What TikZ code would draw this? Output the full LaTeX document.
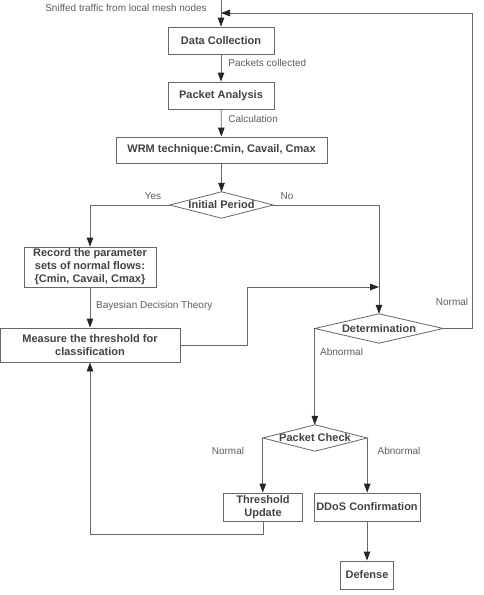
\documentclass[tikz,border=0pt]{standalone}
\usepackage{fontspec}
\setmainfont{Liberation Sans}
\usetikzlibrary{arrows.meta}
\usetikzlibrary{positioning}
\usetikzlibrary{calc}
\definecolor{linegray}{rgb}{0.40,0.40,0.40}
\definecolor{boxtext}{rgb}{0.26,0.26,0.26}
\definecolor{labeltext}{rgb}{0.36,0.36,0.36}
\tikzset{
	stepbox/.style={draw=linegray, line width=0.8pt, text=boxtext, align=center, inner sep=0pt,
		font=\bfseries\fontsize{11}{13}\selectfont},
	decision/.style={inner sep=0pt, text=boxtext, font=\bfseries\fontsize{11}{13}\selectfont},
	edgelabel/.style={text=labeltext, inner sep=0pt, font=\fontsize{10}{12}\selectfont},
	flow/.style={draw=linegray, line width=0.8pt, -{Triangle[length=9pt,width=6.5pt,color=black!85]}},
	plainline/.style={draw=linegray, line width=0.8pt}
}

\begin{document}
\begin{tikzpicture}[x=1pt, y=-1pt]
	\useasboundingbox (0,0) rectangle (483,595);
	
	% main column
	\coordinate (source) at (221,0);
	\coordinate (loopin) at (221,13);
	\node[edgelabel] (sniffed) at (126,8) {Sniffed traffic from local mesh nodes};
	\node[stepbox, minimum width=106pt, minimum height=27pt] (datacoll) at (221,40.5) {Data Collection};
	\node[stepbox, minimum width=106pt, minimum height=27pt] (pktanalysis) at (221,95.5) {Packet Analysis};
	\node[stepbox, minimum width=211pt, minimum height=26pt] (wrm) at (221.5,150) {WRM technique:Cmin, Cavail, Cmax};
	
	% Initial Period
	\node[decision, minimum width=103pt, minimum height=26pt] (initperiod) at (221.5,205) {Initial Period};
	\draw[plainline] (initperiod.west) -- (initperiod.north) -- (initperiod.east) -- (initperiod.south) -- cycle;
	
	% left branch
	\node[stepbox, minimum width=132pt, minimum height=40pt] (record) at (90,267)
	{Record the parameter\\ sets of normal flows:\\ \{Cmin, Cavail, Cmax\}};
	\node[stepbox, minimum width=180pt, minimum height=34pt] (measure) at (90,345)
	{Measure the threshold for\\ classification};
	
	% right branch
	\node[decision, minimum width=128pt, minimum height=29pt] (determ) at (379,328.5) {Determination};
	\draw[plainline] (determ.west) -- (determ.north) -- (determ.east) -- (determ.south) -- cycle;
	\coordinate (merge) at (379,287);
	
	% Packet Check
	\node[decision, minimum width=104pt, minimum height=26pt] (pktcheck) at (315,438) {Packet Check};
	\draw[plainline] (pktcheck.west) -- (pktcheck.north) -- (pktcheck.east) -- (pktcheck.south) -- cycle;
	\node[stepbox, minimum width=79pt, minimum height=28pt] (thrupdate) at (263,507) {Threshold\\ Update};
	\node[stepbox, minimum width=106pt, minimum height=28pt] (ddos) at (367,507) {DDoS Confirmation};
	\node[stepbox, minimum width=53pt, minimum height=28pt] (defense) at (367,575) {Defense};
	
	% connectors
	\draw[flow] (source) -- (datacoll.north);
	\draw[flow] (datacoll) -- (pktanalysis) node[edgelabel, anchor=west] (lblpkts) at (228,63) {Packets collected};
	\draw[flow] (pktanalysis) -- (wrm) node[edgelabel, anchor=west] (lblcalc) at (228,119) {Calculation};
	\draw[flow] (wrm) -- (initperiod.north);
	\draw[flow] (initperiod.west) -| (record.north);
	\draw[flow] (initperiod.east) -| (determ.north);
	\draw[flow] (record) -- (measure);
	\draw[flow] (measure.east) -- (247,345) |- (merge);
	\draw[flow] (determ.east) -- (472,328.5) |- (loopin);
	\draw[flow] (determ.west) -- (determ.west |- pktcheck.north);
	\draw[flow] (pktcheck.west) -- (pktcheck.west |- thrupdate.north);
	\draw[flow] (pktcheck.east) -- (pktcheck.east |- ddos.north);
	\draw[flow] (ddos) -- (defense);
	\draw[flow] (thrupdate.south) -- ++(0,13) -| (measure.south);
	
	% labels
	\node[edgelabel] (lblyes) at (153,196) {Yes};
	\node[edgelabel] (lblno) at (287,196) {No};
	\node[edgelabel, anchor=west] (lblbayes) at (96,306) {Bayesian Decision Theory};
	\node[edgelabel] (lblnormal) at (452,302) {Normal};
	\node[edgelabel, anchor=west] (lblabn) at (320,352) {Abnormal};
	\node[edgelabel] (lblpcnormal) at (228,451) {Normal};
	\node[edgelabel] (lblpcabn) at (399,451) {Abnormal};
	
\end{tikzpicture}
\end{document}
